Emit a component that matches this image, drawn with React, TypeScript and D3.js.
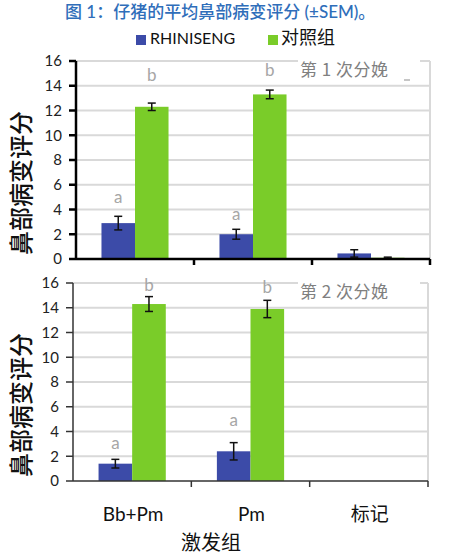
import React from "react";
import * as d3 from "d3";

const categories = ["Bb+Pm", "Pm", "标记"];
const seriesNames = ["RHINISENG", "对照组"];
const seriesColors = ["#3C4BA8", "#7ACC29"];

// Parity 1
const p1Rhiniseng = [2.9, 2.0, 0.45];
const p1RhinisengErr = [0.55, 0.4, 0.3];
const p1Control = [12.3, 13.3, 0.1];
const p1ControlErr = [0.3, 0.35, 0.05];
const p1Letters = [["a", "b"], ["a", "b"], ["", ""]];
const p1LetterY = [[5.0, 14.9], [3.6, 15.3], [0, 0]];

// Parity 2
const p2Rhiniseng = [1.4, 2.4, null];
const p2RhinisengErr = [0.35, 0.7, null];
const p2Control = [14.3, 13.9, null];
const p2ControlErr = [0.6, 0.7, null];
const p2Letters = [["a", "b"], ["a", "b"], ["", ""]];
const p2LetterY = [[3.1, 15.8], [4.9, 15.7], [0, 0]];

const yTicks = [0, 2, 4, 6, 8, 10, 12, 14, 16];

const FONT = "Lato, 'Noto Sans CJK SC', sans-serif";
const CJK = "'Noto Sans CJK SC', sans-serif";

type PanelProps = {
  top: number;
  bottom: number;
  left: number;
  right: number;
  values: (number | null)[][];
  errs: (number | null)[][];
  letters: string[][];
  letterY: number[][];
  label: string;
  underscore: boolean;
  axisColor: string;
  axisWidth: number;
};

function Panel(p: PanelProps) {
  const y = d3.scaleLinear().domain([0, 16]).range([p.bottom, p.top]);
  const x = d3.scaleBand<string>().domain(categories).range([p.left, p.right]).padding(0);
  const inner = d3
    .scaleBand<string>()
    .domain(seriesNames)
    .range([0, x.bandwidth()])
    .paddingInner(0)
    .paddingOuter(0.76);
  const bw = inner.bandwidth();
  return (
    <g>
      {yTicks
        .filter((t) => t > 0)
        .map((t) => (
          <line key={t} x1={p.left} x2={p.right} y1={y(t)} y2={y(t)} stroke="#d9d9d9" strokeWidth={2} />
        ))}
      <line x1={p.right} x2={p.right} y1={y(16)} y2={y(0)} stroke="#d9d9d9" strokeWidth={2} />
      {categories.map((c, ci) =>
        seriesNames.map((s, si) => {
          const v = p.values[si][ci];
          if (v == null) return null;
          const bx = (x(c) as number) + (inner(s) as number);
          return (
            <rect key={c + s} x={bx} y={y(v)} width={bw} height={y(0) - y(v)} fill={seriesColors[si]} />
          );
        })
      )}
      {categories.map((c, ci) =>
        seriesNames.map((s, si) => {
          const v = p.values[si][ci];
          const e = p.errs[si][ci];
          if (v == null || e == null) return null;
          const cx = (x(c) as number) + (inner(s) as number) + bw / 2;
          return (
            <g key={"e" + c + s} stroke="#111" strokeWidth={1.5}>
              <line x1={cx} x2={cx} y1={y(v - e)} y2={y(v + e)} />
              <line x1={cx - 4} x2={cx + 4} y1={y(v - e)} y2={y(v - e)} />
              <line x1={cx - 4} x2={cx + 4} y1={y(v + e)} y2={y(v + e)} />
            </g>
          );
        })
      )}
      {categories.map((c, ci) =>
        seriesNames.map((s, si) => {
          const l = p.letters[ci][si];
          if (!l) return null;
          const cx = (x(c) as number) + (inner(s) as number) + bw / 2;
          return (
            <text
              key={"l" + c + s}
              x={cx}
              y={y(p.letterY[ci][si])}
              dy="0.35em"
              textAnchor="middle"
              fontFamily={FONT}
              fontSize={17}
              fill="#a6a6a6"
            >
              {l}
            </text>
          );
        })
      )}
      <rect x={298} y={y(16) - 3} width={122} height={24} fill="#fff" />
      <text x={300} y={y(16) + 9} dy="0.35em" fontFamily={CJK} fontSize={17} letterSpacing={0.5} fill="#808080">
        {p.label}
      </text>
      {p.underscore && (
        <line x1={404} x2={410} y1={y(16) + 19} y2={y(16) + 19} stroke="#a0a0a0" strokeWidth={1.2} />
      )}
      <line x1={p.left} x2={p.left} y1={y(16)} y2={y(0)} stroke={p.axisColor} strokeWidth={p.axisWidth} />
      <line x1={p.left} x2={p.right} y1={y(0)} y2={y(0)} stroke={p.axisColor} strokeWidth={p.axisWidth} />
      {yTicks.map((t) => (
        <g key={"t" + t}>
          <line x1={p.left - 7} x2={p.left} y1={y(t)} y2={y(t)} stroke={p.axisColor} strokeWidth={p.axisWidth} />
          <text x={p.left - 14} y={y(t)} dy="0.35em" textAnchor="end" fontFamily={FONT} fontSize={15} fill="#222">
            {t}
          </text>
        </g>
      ))}
      {categories.map((c) => (
        <line
          key={"ct" + c}
          x1={(x(c) as number) + x.bandwidth()}
          x2={(x(c) as number) + x.bandwidth()}
          y1={y(0)}
          y2={y(0) + 6}
          stroke={p.axisColor}
          strokeWidth={p.axisWidth}
        />
      ))}
      <text
        transform={`translate(22,${(p.top + p.bottom) / 2 + 23}) rotate(-90)`}
        textAnchor="middle"
        dy="0.35em"
        fontFamily={CJK}
        fontSize={24}
        fontWeight={500}
        fill="#111"
      >
        鼻部病变评分
      </text>
    </g>
  );
}

export default function App() {
  const xBottom = d3.scaleBand<string>().domain(categories).range([74, 429]).padding(0);
  return (
    <svg width={449} height={556} style={{ position: "absolute", left: 0, top: 0 }}>
      <rect width={449} height={556} fill="#fff" />
      <text x={65} y={18} fontFamily={FONT} fontSize={17} fontWeight={500} fill="#2F6EBA">
        图 1：仔猪的平均鼻部病变评分 (±SEM)。
      </text>
      <rect x={136} y={35} width={10} height={10} fill={seriesColors[0]} />
      <text x={150} y={44} fontFamily={FONT} fontSize={16} fill="#111">
        {seriesNames[0]}
      </text>
      <rect x={268} y={35} width={10} height={10} fill={seriesColors[1]} />
      <text x={281} y={44} fontFamily={CJK} fontSize={18} fill="#111">
        {seriesNames[1]}
      </text>
      <Panel
        top={61}
        bottom={259}
        left={76}
        right={430}
        values={[p1Rhiniseng, p1Control]}
        errs={[p1RhinisengErr, p1ControlErr]}
        letters={p1Letters}
        letterY={p1LetterY}
        label="第 1 次分娩"
        underscore={true}
        axisColor="#000"
        axisWidth={2.5}
      />
      <Panel
        top={283}
        bottom={481}
        left={73}
        right={428}
        values={[p2Rhiniseng, p2Control]}
        errs={[p2RhinisengErr, p2ControlErr]}
        letters={p2Letters}
        letterY={p2LetterY}
        label="第 2 次分娩"
        underscore={false}
        axisColor="#333"
        axisWidth={1.5}
      />
      {categories.map((c) => (
        <text
          key={"cl" + c}
          x={(xBottom(c) as number) + xBottom.bandwidth() / 2}
          y={514}
          dy="0.35em"
          textAnchor="middle"
          fontFamily={FONT}
          fontSize={19}
          fill="#111"
        >
          {c}
        </text>
      ))}
      <text x={211} y={543} dy="0.35em" textAnchor="middle" fontFamily={CJK} fontSize={20} fill="#111">
        激发组
      </text>
    </svg>
  );
}
